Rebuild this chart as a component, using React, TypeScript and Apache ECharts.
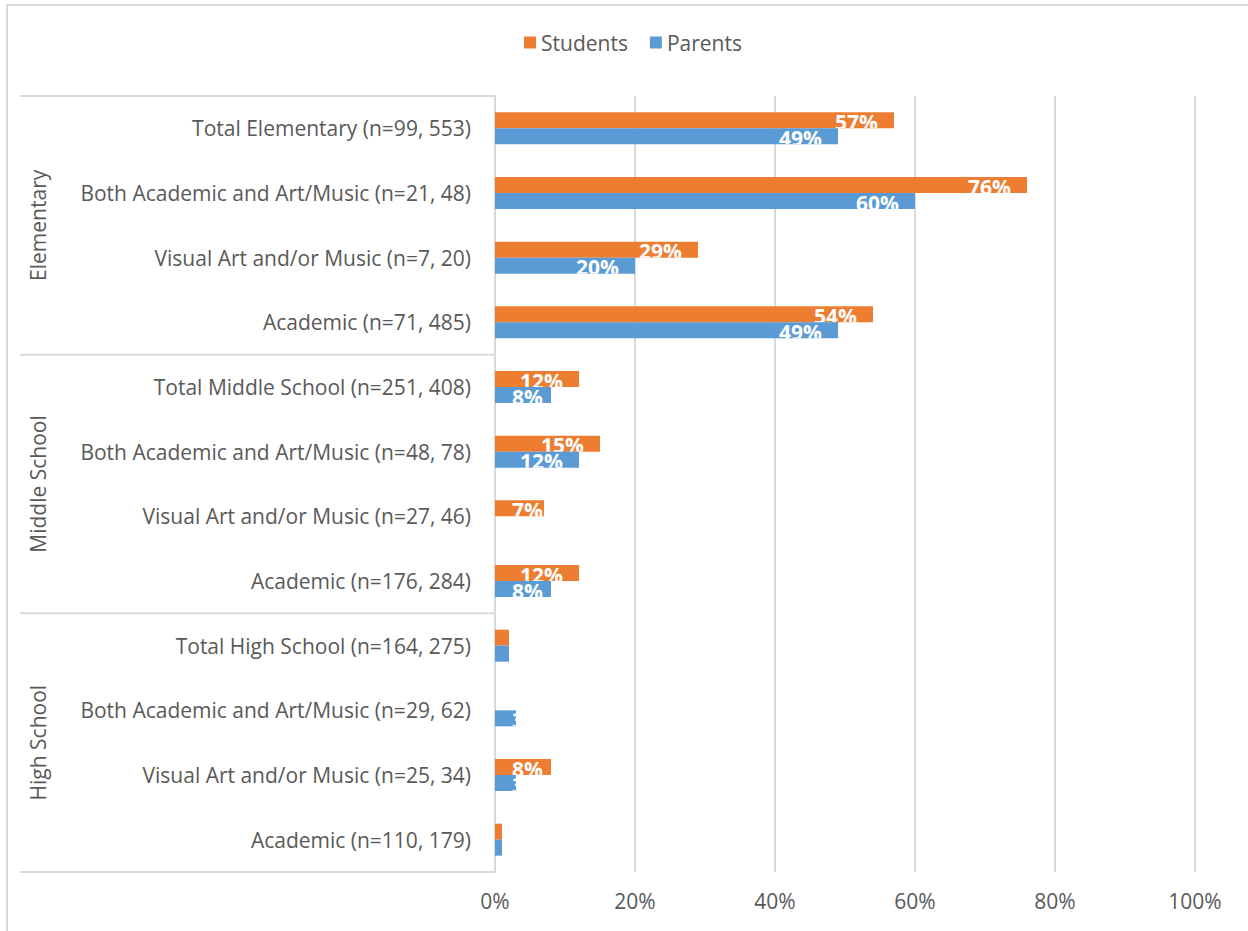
import React, { useEffect, useRef } from "react";
import * as echarts from "echarts";

const categories = [
  "Total Elementary (n=99, 553)",
  "Both Academic and Art/Music (n=21, 48)",
  "Visual Art and/or Music (n=7, 20)",
  "Academic (n=71, 485)",
  "Total Middle School (n=251, 408)",
  "Both Academic and Art/Music (n=48, 78)",
  "Visual Art and/or Music (n=27, 46)",
  "Academic (n=176, 284)",
  "Total High School (n=164, 275)",
  "Both Academic and Art/Music (n=29, 62)",
  "Visual Art and/or Music (n=25, 34)",
  "Academic (n=110, 179)",
];
const students = [57, 76, 29, 54, 12, 15, 7, 12, 2, 0, 8, 1];
const parents = [49, 60, 20, 49, 8, 12, 0, 8, 2, 3, 3, 1];
const seriesNames = ["Students", "Parents"];
const seriesColors = ["#ED7D31", "#5B9BD5"];
const groups = ["Elementary", "Middle School", "High School"];
const groupSize = 4;
const xTicks = [0, 20, 40, 60, 80, 100];

const FONT = "'Open Sans', sans-serif";
const FS = 21;
const TEXT = "#595959";
const GRID = "#D9D9D9";
const BAR_H = 16;
const LABEL_FONT = "bold 21px 'Open Sans', sans-serif";

let measureCtx: CanvasRenderingContext2D | null = null;
const measure = (s: string) => {
  if (!measureCtx) {
    measureCtx = document.createElement("canvas").getContext("2d");
  }
  if (!measureCtx) return s.length * 12;
  measureCtx.font = LABEL_FONT;
  return measureCtx.measureText(s).width;
};

const makeRender = (s: number, color: string) => (_params: any, api: any) => {
  const i = api.value(0);
  const v = api.value(1);
  const start = api.coord([0, i]);
  const end = api.coord([v, i]);
  const w = end[0] - start[0];
  if (!(w > 0)) return null;
  const y = start[1] - BAR_H + s * BAR_H;
  const rect = { x: start[0], y, width: w, height: BAR_H };
  const label = v + "%";
  const tw = measure(label);
  let tx = end[0] - 16 - tw;
  if (tx < start[0] + 17) tx = start[0] + 17;
  const children: any[] = [{ type: "rect", shape: rect, style: { fill: color } }];
  if (tx < end[0] - 1) {
    children.push({
      type: "group",
      clipPath: { type: "rect", shape: rect },
      children: [
        {
          type: "text",
          x: tx,
          y: y + BAR_H / 2 + 1.5,
          style: {
            text: label,
            fill: "#FFFFFF",
            font: LABEL_FONT,
            align: "left",
            verticalAlign: "middle",
          },
        },
      ],
    });
  }
  return { type: "group", children };
};

export default function App() {
  const ref = useRef<HTMLDivElement>(null);
  useEffect(() => {
    if (!ref.current) return;
    const chart = echarts.init(ref.current, undefined, { renderer: "svg" });
    const values = [students, parents];
    chart.setOption({
      animation: false,
      backgroundColor: "#FFFFFF",
      textStyle: { fontFamily: FONT },
      legend: {
        top: 27,
        left: 519,
        itemWidth: 12,
        itemHeight: 12,
        itemGap: 22,
        icon: "rect",
        textStyle: { fontSize: FS, color: TEXT, fontFamily: FONT },
        data: seriesNames,
      },
      grid: { left: 495, right: 53, top: 96, bottom: 59, containLabel: false },
      xAxis: {
        type: "value",
        min: xTicks[0],
        max: xTicks[xTicks.length - 1],
        interval: 20,
        axisLine: { show: false },
        axisTick: { show: false },
        splitLine: { show: true, lineStyle: { color: GRID, width: 2 } },
        axisLabel: {
          formatter: "{value}%",
          color: TEXT,
          fontSize: FS,
          fontFamily: FONT,
          margin: 18,
        },
      },
      yAxis: {
        type: "category",
        inverse: true,
        data: categories,
        axisLine: { show: true, lineStyle: { color: GRID, width: 2 } },
        axisTick: { show: false },
        axisLabel: { color: TEXT, fontSize: FS, fontFamily: FONT, margin: 24 },
      },
      series: seriesNames.map((name, s) => ({
        name,
        type: "custom",
        itemStyle: { color: seriesColors[s] },
        encode: { x: 1, y: 0 },
        data: values[s].map((v, i) => [i, v]),
        renderItem: makeRender(s, seriesColors[s]),
      })),
    });

    const c0 = chart.convertToPixel({ yAxisIndex: 0 }, 0) as number;
    const c1 = chart.convertToPixel({ yAxisIndex: 0 }, 1) as number;
    const band = c1 - c0;
    const axisX = chart.convertToPixel({ xAxisIndex: 0 }, 0) as number;
    const graphics: any[] = [
      {
        type: "rect",
        shape: { x: 7, y: 5, width: 1400, height: 1100 },
        style: { fill: "none", stroke: GRID, lineWidth: 2 },
        silent: true,
        z: -1,
      },
    ];
    for (let g = 0; g <= groups.length; g++) {
      const y = c0 - band / 2 + g * groupSize * band;
      graphics.push({
        type: "line",
        shape: { x1: 20, y1: y, x2: axisX, y2: y },
        style: { stroke: GRID, lineWidth: 2 },
        silent: true,
      });
    }
    groups.forEach((name, g) => {
      const yc = c0 - band / 2 + (g * groupSize + groupSize / 2) * band;
      graphics.push({
        type: "text",
        x: 38,
        y: yc,
        rotation: Math.PI / 2,
        style: {
          text: name,
          fill: TEXT,
          fontSize: FS,
          fontFamily: FONT,
          align: "center",
          verticalAlign: "middle",
        },
        silent: true,
      });
    });
    chart.setOption({ graphic: graphics });

    return () => chart.dispose();
  }, []);
  return (
    <div
      ref={ref}
      style={{ position: "absolute", left: 0, top: 0, width: 1248, height: 931 }}
    />
  );
}
